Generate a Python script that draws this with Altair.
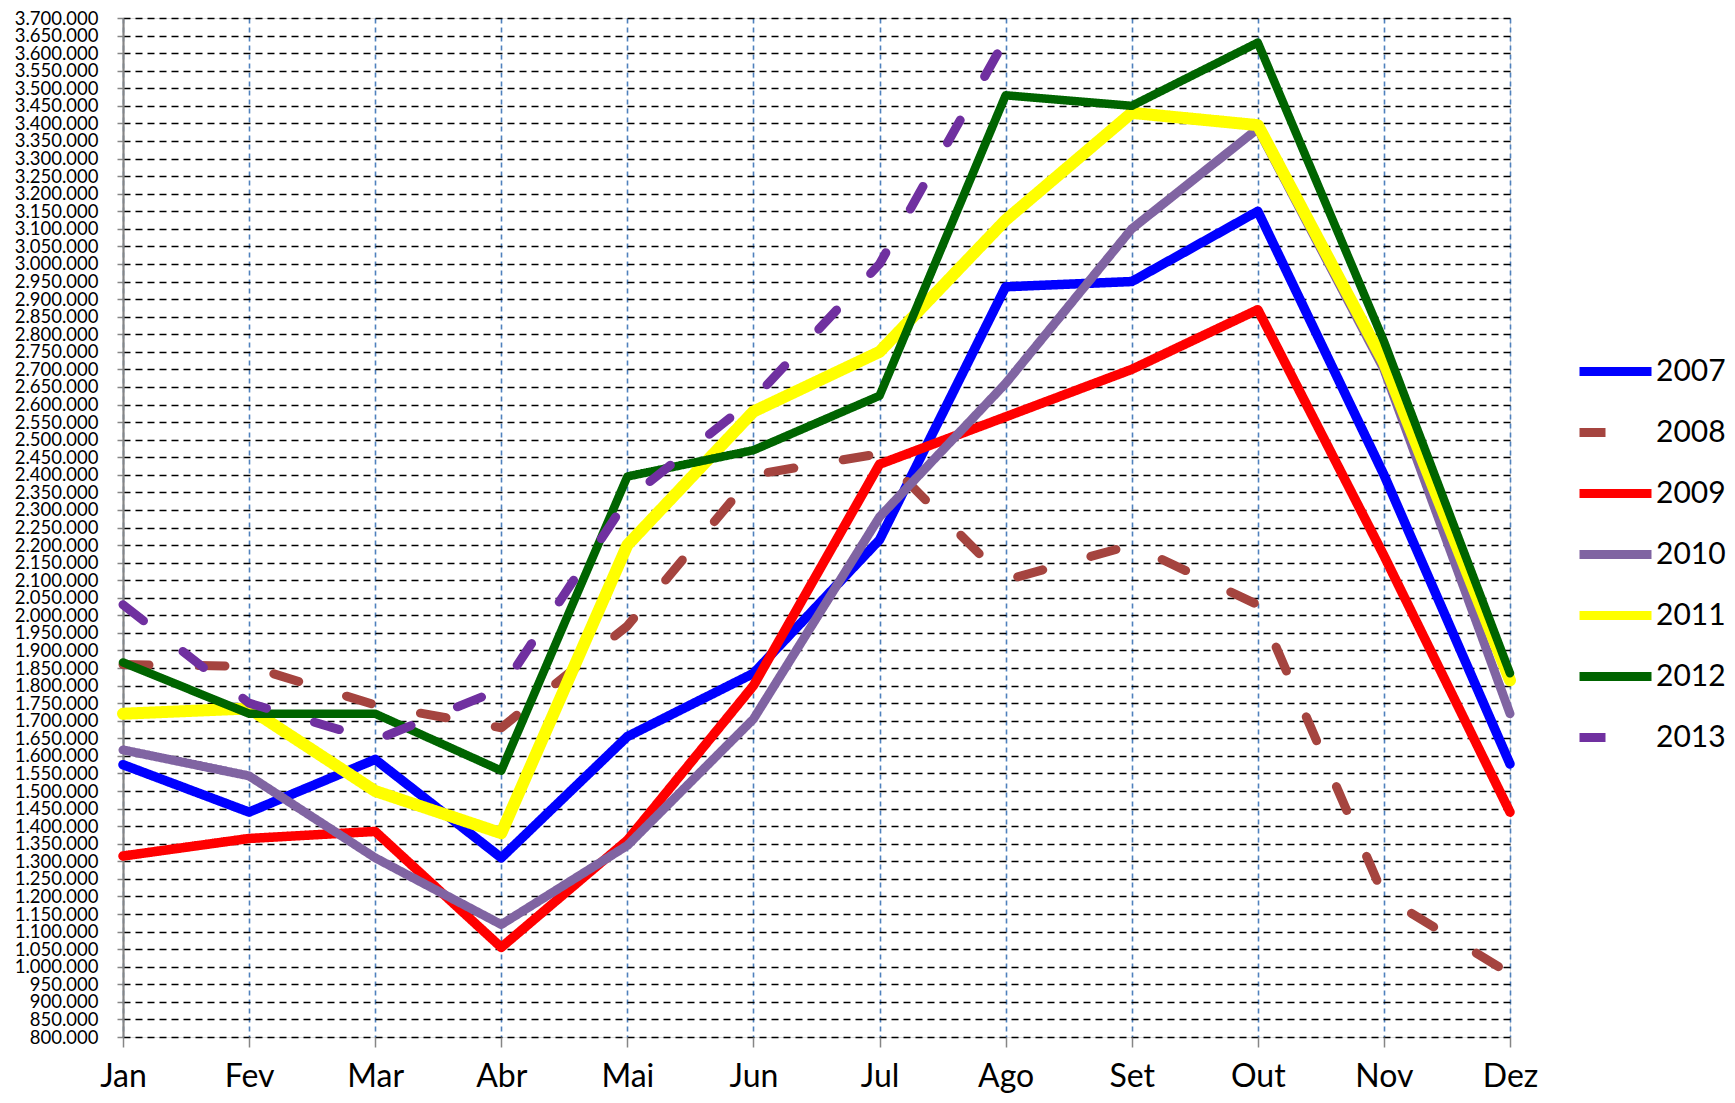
import altair as alt
import pandas as pd

months = ["Jan", "Fev", "Mar", "Abr", "Mai", "Jun", "Jul", "Ago", "Set", "Out", "Nov", "Dez"]
years = ["2007", "2008", "2009", "2010", "2011", "2012", "2013"]

v2007 = [1575000, 1440000, 1590000, 1310000, 1655000, 1835000, 2215000, 2935000, 2950000, 3150000, 2400000, 1577000]
v2008 = [1860000, 1855000, 1745000, 1680000, 1970000, 2400000, 2460000, 2100000, 2200000, 2030000, 1200000, 980000]
v2009 = [1315000, 1365000, 1385000, 1055000, 1360000, 1800000, 2430000, 2565000, 2700000, 2870000, 2170000, 1440000]
v2010 = [1617000, 1543000, 1310000, 1120000, 1345000, 1705000, 2280000, 2660000, 3100000, 3385000, 2700000, 1720000]
v2011 = [1720000, 1735000, 1500000, 1380000, 2200000, 2580000, 2750000, 3125000, 3430000, 3395000, 2720000, 1815000]
v2012 = [1866000, 1720000, 1720000, 1558000, 2395000, 2470000, 2625000, 3480000, 3450000, 3630000, 2780000, 1835000]
v2013 = [2030000, 1750000, 1645000, 1790000, 2330000, 2615000, 3000000, 3640000]

series = [v2007, v2008, v2009, v2010, v2011, v2012, v2013]
colors = ["#0000FF", "#A5443F", "#FF0000", "#8064A2", "#FFFF00", "#006400", "#7030A0"]
dashes = [[1, 0], [26, 50], [1, 0], [1, 0], [1, 0], [1, 0], [26, 50]]
widths = [9.5, 9, 9.5, 9, 12, 8.5, 9]

y_ticks = list(range(800000, 3700001, 50000))

rows = []
for yr, vals in zip(years, series):
    for m, v in zip(months, vals):
        rows.append({"Ano": yr, "Mes": m, "Valor": v})
df = pd.DataFrame(rows)

FONT = "Lato"
label_expr = "replace(replace(format(datum.value, ',d'), ',', '.'), ',', '.')"

x_enc = alt.X(
    "Mes:N", sort=months,
    scale=alt.Scale(type="point", padding=0),
    axis=alt.Axis(
        title=None, labelAngle=0, labelFont=FONT, labelFontSize=32, labelColor="black",
        labelPadding=14, tickSize=10, tickColor="#868686", tickWidth=1.5,
        domain=False, grid=True, gridColor="#4F81BD", gridDash=[5, 4], gridWidth=1.6,
    ),
)
y_enc = alt.Y(
    "Valor:Q",
    scale=alt.Scale(domain=[800000, 3700000], nice=False, zero=False),
    axis=alt.Axis(
        title=None, values=y_ticks, labelExpr=label_expr, labelFont=FONT, labelFontSize=18.5,
        labelColor="black", labelPadding=19, labelOverlap=False, tickSize=6,
        tickColor="#868686", tickWidth=1.5,
        domain=True, domainColor="#868686", domainWidth=2.2,
        grid=True, gridColor="black", gridDash=[7, 5], gridWidth=1.4,
    ),
)
legend = alt.Legend(
    title=None, orient="none", legendX=1452, legendY=313, symbolType="stroke",
    symbolSize=5184, symbolStrokeWidth=9, labelFont=FONT,
    labelFontSize=30, labelColor="black", padding=0, labelOffset=0,
)
color_enc = alt.Color("Ano:N", scale=alt.Scale(domain=years, range=colors), legend=legend)
dash_enc = alt.StrokeDash("Ano:N", scale=alt.Scale(domain=years, range=dashes), legend=legend)

layers = []
for yr, w in zip(years, widths):
    layers.append(
        alt.Chart(df)
        .transform_filter(alt.datum.Ano == yr)
        .mark_line(strokeWidth=w, strokeCap="round", strokeJoin="round")
        .encode(x=x_enc, y=y_enc, color=color_enc, strokeDash=dash_enc)
    )

chart = (
    alt.layer(*layers)
    .properties(
        width=1387, height=1019,
        autosize=alt.AutoSizeParams(type="none"),
        padding={"left": 115, "top": 10, "right": 217, "bottom": 58},
    )
    .configure_view(stroke=None)
    .configure_legend(rowPadding=2.9)
    .configure(background="white")
)

chart.save("out.html", embed_options={"renderer": "svg", "actions": False})
